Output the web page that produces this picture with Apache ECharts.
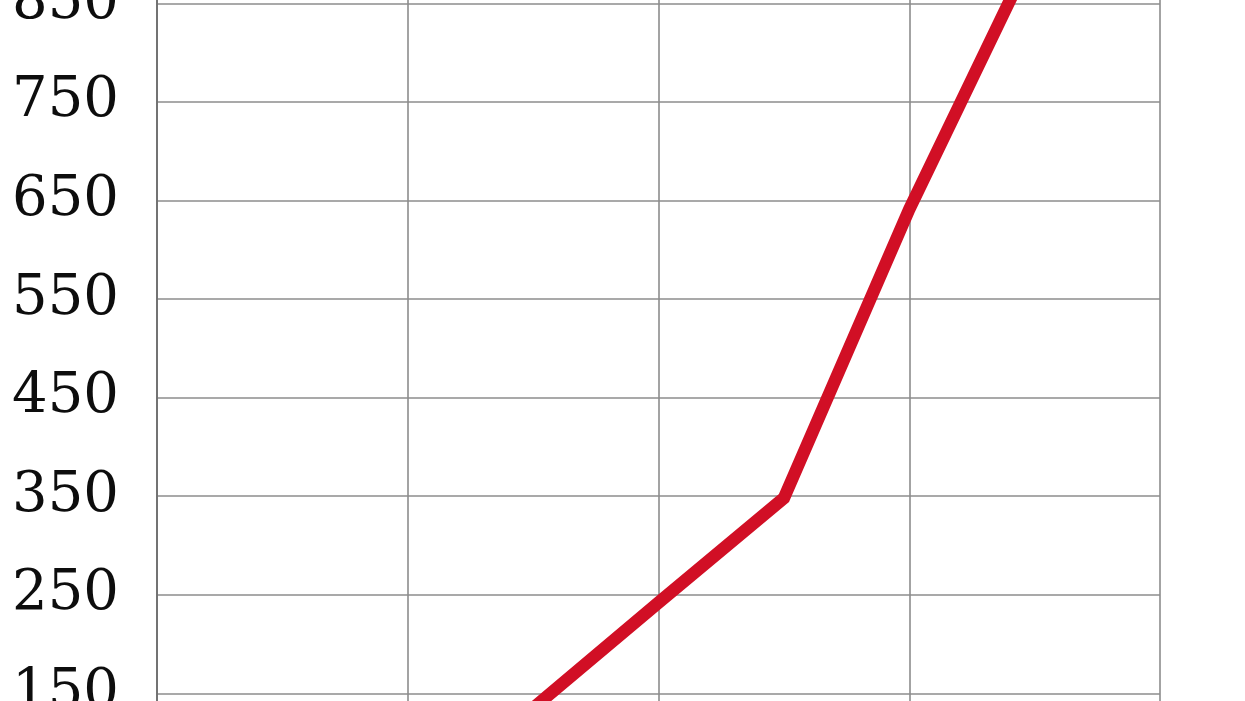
<!DOCTYPE html>
<html>
<head>
<meta charset="utf-8">
<script src="https://cdn.jsdelivr.net/npm/echarts@6/dist/echarts.min.js"></script>
<style>
html,body{margin:0;padding:0;background:#fff;}
#chart{width:1245px;height:701px;}
</style>
</head>
<body>
<div id="chart"></div>
<script>
// Categories (x positions, one per half grid column); the x labels lie outside the visible crop
const categories = ['1','2','3','4','5','6','7','8','9'];
// Series values ('-' = outside the visible crop)
const values = ['-', '-', '-', 135, 242, 348, 641, 905, '-'];
// Y tick labels
const yMin = 50, yMax = 950, yStep = 100;

const chart = echarts.init(document.getElementById('chart'), null, {renderer: 'canvas'});
chart.setOption({
  animation: false,
  backgroundColor: '#ffffff',
  grid: {left: 157, right: 85, top: -95.3, bottom: -90.9, containLabel: false, outerBoundsMode: 'none'},
  xAxis: {
    type: 'category',
    data: categories,
    boundaryGap: false,
    axisLine: {show: false},
    axisTick: {show: false},
    axisLabel: {show: false},
    splitLine: {show: true, interval: 1, lineStyle: {color: '#8c8c8c', width: 1.6}}
  },
  yAxis: {
    type: 'value',
    min: yMin, max: yMax, interval: yStep,
    axisLine: {show: true, lineStyle: {color: '#6e6e6e', width: 1.8}},
    axisTick: {show: false},
    axisLabel: {
      margin: 38,
      color: '#0d0d0d',
      fontFamily: 'DejaVu Serif',
      fontSize: 56,
      padding: [6, 0, 0, 0]
    },
    splitLine: {show: true, lineStyle: {color: '#8c8c8c', width: 1.6}}
  },
  series: [{
    type: 'line',
    data: values,
    symbol: 'none',
    connectNulls: false,
    lineStyle: {color: '#d10f25', width: 12.5, join: 'miter'}
  }]
});
</script>
</body>
</html>
